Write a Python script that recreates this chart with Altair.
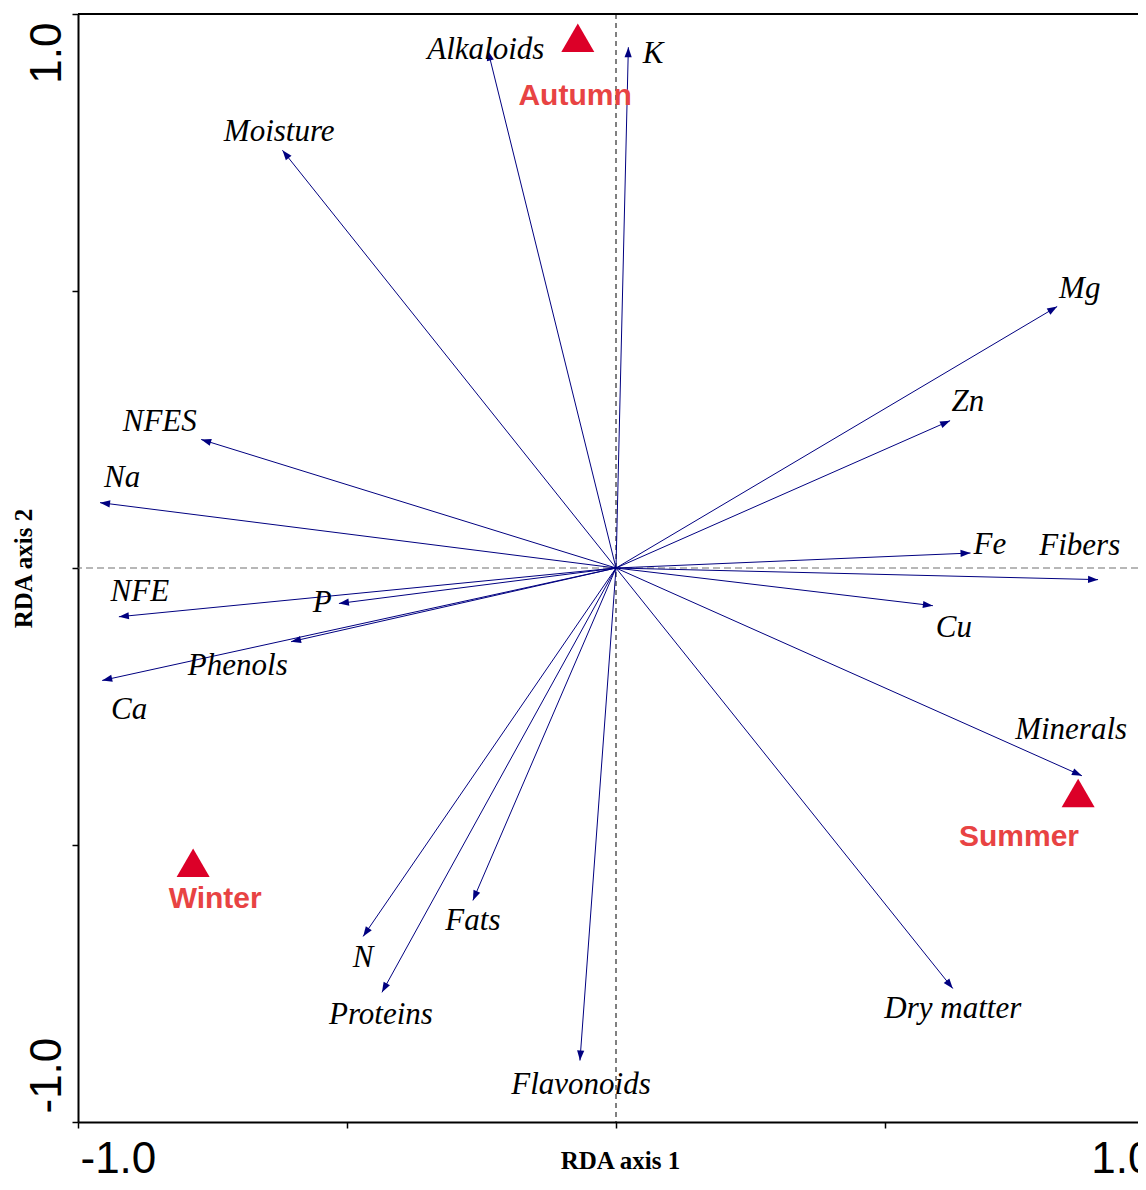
import altair as alt
import pandas as pd

# ---------------- data ----------------
variables = ["K", "Alkaloids", "Moisture", "Mg", "Zn", "NFES", "Na", "Fe", "Fibers", "Cu",
             "NFE", "P", "Phenols", "Ca", "Minerals", "Dry matter", "Fats", "N", "Proteins",
             "Flavonoids"]
var_x = [0.023, -0.238, -0.620, 0.820, 0.621, -0.771, -0.959, 0.659, 0.896, 0.589,
         -0.924, -0.515, -0.604, -0.955, 0.866, 0.626, -0.266, -0.470, -0.435, -0.067]
var_y = [0.940, 0.934, 0.754, 0.472, 0.266, 0.232, 0.118, 0.027, -0.021, -0.068,
         -0.088, -0.064, -0.133, -0.203, -0.375, -0.759, -0.600, -0.665, -0.766, -0.889]
# label anchor (centre, baseline) in axis units
label_x = [0.069, -0.242, -0.626, 0.862, 0.654, -0.848, -0.918, 0.695, 0.862, 0.628,
           -0.885, -0.546, -0.703, -0.905, 0.846, 0.626, -0.266, -0.470, -0.437, -0.065]
label_y = [0.911, 0.918, 0.771, 0.488, 0.284, 0.248, 0.147, 0.026, 0.023, -0.124,
           -0.059, -0.080, -0.194, -0.272, -0.309, -0.813, -0.654, -0.721, -0.824, -0.949]

seasons = ["Autumn", "Summer", "Winter"]
season_x = [-0.071, 0.859, -0.786]
season_y = [0.957, -0.406, -0.532]
season_label_x = [-0.076, 0.749, -0.745]
season_label_y = [0.835, -0.501, -0.613]

x_ticks = [-1.0, -0.5, 0.0, 0.5, 1.0]
x_tick_labels = ["-1.0", "", "", "", "1.0"]
y_ticks = [-1.0, -0.5, 0.0, 0.5, 1.0]
y_tick_labels = ["-1.0", "", "", "", "1.0"]
axis_domain = [-1.0, 1.0]

# ---------------- layout ----------------
PLOT_W = 1076      # full scale range in px (the right end is cropped by the page)
VIEW_W = 1060
PLOT_H = 1108
NAVY = "#000080"
TRI_RED = "#DC0028"
TXT_RED = "#E84343"


def label_expr(values, labels):
    expr = "''"
    for v, l in reversed(list(zip(values, labels))):
        expr = f"datum.value == {v} ? '{l}' : ({expr})"
    return expr


vars_df = pd.DataFrame({"name": variables, "x": var_x, "y": var_y,
                        "lx": label_x, "ly": label_y})
vars_df["x0"] = 0.0
vars_df["y0"] = 0.0
seas_df = pd.DataFrame({"name": seasons, "x": season_x, "y": season_y,
                        "lx": season_label_x, "ly": season_label_y})
zero_df = pd.DataFrame({"v": [0.0]})
top_df = pd.DataFrame({"v": [axis_domain[1]]})

xs = alt.Scale(domain=axis_domain, range=[0, PLOT_W], nice=False, zero=False)
ys = alt.Scale(domain=axis_domain, nice=False, zero=False)

common_axis = dict(grid=False, domainColor="black", domainWidth=2, tickColor="black",
                   tickWidth=1.5, tickSize=6, labelFont="Liberation Sans", labelFontSize=44,
                   labelColor="black", labelOverlap=False, titleFont="Liberation Serif",
                   titleFontWeight="bold", titleFontSize=25, titleColor="black")

x_axis = alt.Axis(values=x_ticks, labelExpr=label_expr(x_ticks, x_tick_labels),
                  title="RDA axis 1", labelFlush=True, labelFlushOffset=-2, labelPadding=9,
                  titleX=542, titleY=46, titleBaseline="alphabetic", titleAlign="center",
                  **common_axis)
y_axis = alt.Axis(values=y_ticks, labelExpr=label_expr(y_ticks, y_tick_labels),
                  title="RDA axis 2", labelAngle=270,
                  labelAlign={"condition": {"test": "datum.value > 0", "value": "right"}, "value": "left"},
                  labelOffset={"condition": {"test": "datum.value > 0", "value": 8}, "value": -9},
                  labelBaseline="alphabetic", labelPadding=12,
                  titleAngle=270, titleX=-47, titleY=PLOT_H / 2, titleBaseline="alphabetic",
                  titleAlign="center", **common_axis)


def X(f):
    return alt.X(f, scale=xs, axis=x_axis)


def Y(f):
    return alt.Y(f, scale=ys, axis=y_axis)


vline = alt.Chart(zero_df).mark_rule(color="black", strokeWidth=1, strokeDash=[5, 4]).encode(
    x=X("v:Q"))
hline = alt.Chart(zero_df).mark_rule(color="#707070", strokeWidth=1.2, strokeDash=[7, 4]).encode(
    y=Y("v:Q"))
topline = alt.Chart(top_df).mark_rule(color="black", strokeWidth=2).encode(y=Y("v:Q"))

arrows = alt.Chart(vars_df).mark_rule(color=NAVY, strokeWidth=1).encode(
    x=X("x0:Q"), y=Y("y0:Q"), x2="x:Q", y2="y:Q")

heads = alt.Chart(vars_df).transform_calculate(
    ang=f"(atan2(datum.x * {PLOT_W / 2}, datum.y * {PLOT_H / 2}) * 180 / PI + 360) % 360"
).mark_point(shape="M0,0L0.36,1L-0.36,1Z", filled=True, size=400, color=NAVY,
             opacity=1, strokeWidth=0).encode(
    x=X("x:Q"), y=Y("y:Q"), angle=alt.Angle("ang:Q", scale=None))

labels = alt.Chart(vars_df).mark_text(font="Liberation Serif", fontStyle="italic", fontSize=31,
                                      color="black", align="center", baseline="alphabetic").encode(
    x=X("lx:Q"), y=Y("ly:Q"), text="name:N")

tris = alt.Chart(seas_df).mark_point(shape="triangle-up", filled=True, size=1090, color=TRI_RED,
                                     opacity=1, strokeWidth=0).encode(x=X("x:Q"), y=Y("y:Q"))

slabels = alt.Chart(seas_df).mark_text(font="Liberation Sans", fontWeight="bold", fontSize=30,
                                       color=TXT_RED, align="center", baseline="alphabetic").encode(
    x=X("lx:Q"), y=Y("ly:Q"), text="name:N")

chart = alt.layer(vline, hline, topline, arrows, heads, labels, tris, slabels).properties(
    width=VIEW_W, height=PLOT_H,
    autosize=alt.AutoSizeParams(type="none"),
    padding={"left": 70, "top": 6, "right": 0, "bottom": 52},
    background="white",
).configure_view(stroke=None)

chart.save("out.html", embed_options={"renderer": "svg", "actions": False})
